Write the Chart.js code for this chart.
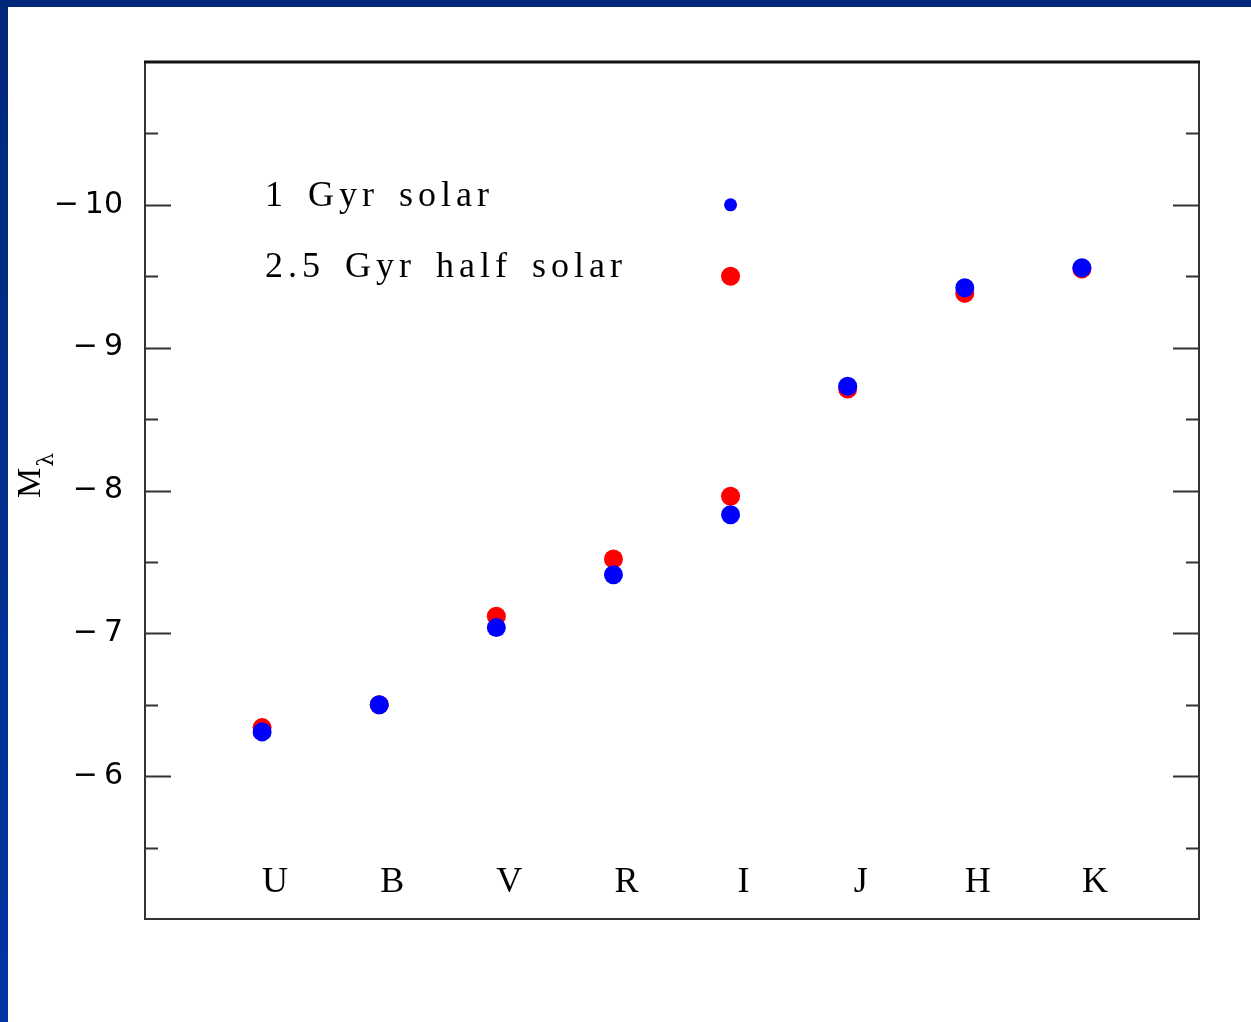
<!DOCTYPE html>
<html lang="en">
<head>
  <meta charset="UTF-8" />
  <title>Absolute magnitude by band</title>
  <script src="https://cdn.jsdelivr.net/npm/chart.js"></script>
  <style>
    html, body { margin: 0; padding: 0; background: #fff; }
    #wrap { width: 1251px; height: 1022px; position: relative; }
  </style>
</head>
<body>
<div id="wrap"><canvas id="magChart"></canvas></div>
<script>
  // bands along the bottom
  const bands = ['U', 'B', 'V', 'R', 'I', 'J', 'H', 'K'];
  const solar1Gyr = [-6.31, -6.50, -7.04, -7.41, -7.83, -8.73, -9.42, -9.56];      // blue
  const halfSolar25Gyr = [-6.34, -6.50, -7.12, -7.52, -7.96, -8.71, -9.38, -9.55]; // red
  const yTickLabels = [-10, -9, -8, -7, -6];
  const legendNames = ['1 Gyr solar', '2.5 Gyr half solar'];
  const legendMarkY = [-10, -9.5];
  const legendBand = 'I';

  const BLUE = '#0000ff';
  const RED = '#ff0000';

  const toPoints = vals => vals.map((v, i) => ({ x: i + 1, y: v }));
  const legendX = bands.indexOf(legendBand) + 1;

  // frame, inward ticks, band letters, legend text, axis title
  const decor = {
    id: 'decor',
    beforeDraw(chart) {
      const { ctx, width, height } = chart;
      ctx.save();
      ctx.fillStyle = '#fff';
      ctx.fillRect(0, 0, width, height);
      const g = ctx.createLinearGradient(0, 0, 0, height);
      g.addColorStop(0, '#00287a');
      g.addColorStop(1, '#0036a3');
      ctx.fillStyle = g;
      ctx.fillRect(0, 0, 8, height);
      ctx.fillStyle = '#00287a';
      ctx.fillRect(0, 0, width, 7);
      ctx.restore();
    },
    afterDraw(chart) {
      const { ctx, chartArea: a } = chart;
      const xs = chart.scales.x, ys = chart.scales.y;
      ctx.save();

      // frame
      ctx.strokeStyle = '#333';
      ctx.lineWidth = 2;
      ctx.strokeRect(a.left, a.top, a.right - a.left, a.bottom - a.top);
      ctx.strokeStyle = '#111';
      ctx.lineWidth = 3;
      ctx.beginPath();
      ctx.moveTo(a.left - 1, a.top);
      ctx.lineTo(a.right + 1, a.top);
      ctx.stroke();

      // ticks on left and right, pointing in
      ctx.strokeStyle = '#333';
      ctx.lineWidth = 2;
      for (let v = -10.5; v <= -5.5; v += 0.5) {
        const y = Math.round(ys.getPixelForValue(v)) + 0.5;
        const len = Number.isInteger(v) ? 26 : 13;
        ctx.beginPath();
        ctx.moveTo(a.left, y); ctx.lineTo(a.left + len, y);
        ctx.moveTo(a.right, y); ctx.lineTo(a.right - len, y);
        ctx.stroke();
      }

      // band letters inside the plot
      ctx.fillStyle = '#000';
      ctx.font = '36px "Liberation Serif"';
      ctx.textAlign = 'center';
      ctx.textBaseline = 'alphabetic';
      bands.forEach((b, i) => {
        ctx.fillText(b, xs.getPixelForValue(i + 1) + 13, a.bottom - 27);
      });

      // legend text
      ctx.font = '36px "Liberation Serif"';
      ctx.textAlign = 'left';
      ctx.letterSpacing = '5px';
      ctx.wordSpacing = '6px';
      legendNames.forEach((name, i) => {
        ctx.fillText(name, a.left + 120, ys.getPixelForValue(legendMarkY[i]) + 1);
      });
      ctx.letterSpacing = '0px';
      ctx.wordSpacing = '0px';

      // y title M_lambda
      ctx.translate(40, 498);
      ctx.rotate(-Math.PI / 2);
      ctx.font = '34px "Liberation Serif"';
      ctx.fillText('M', 0, 0);
      const mw = ctx.measureText('M').width;
      ctx.font = '22px "DejaVu Serif"';
      ctx.fillText('\u03bb', mw + 1, 13);
      ctx.restore();
    }
  };

  new Chart(document.getElementById('magChart'), {
    type: 'scatter',
    data: {
      datasets: [
        {
          label: legendNames[0],
          data: toPoints(solar1Gyr),
          backgroundColor: BLUE,
          borderWidth: 0,
          pointRadius: 9.5,
          pointHoverRadius: 9.5
        },
        {
          label: legendNames[1],
          data: toPoints(halfSolar25Gyr),
          backgroundColor: RED,
          borderWidth: 0,
          pointRadius: 9.5,
          pointHoverRadius: 9.5
        },
        {
          label: 'legend marks',
          data: legendMarkY.map(v => ({ x: legendX, y: v })),
          backgroundColor: [BLUE, RED],
          borderWidth: 0,
          pointRadius: [6.5, 9.5],
          pointHoverRadius: [6.5, 9.5]
        }
      ]
    },
    options: {
      responsive: true,
      maintainAspectRatio: false,
      animation: false,
      layout: { padding: { top: 62, right: 52, bottom: 103, left: 0 } },
      plugins: {
        legend: { display: false },
        tooltip: { enabled: false }
      },
      scales: {
        x: { type: 'linear', min: 0, max: 9, display: false },
        y: {
          min: -11,
          max: -5,
          reverse: true,
          grid: { display: false },
          border: { display: false },
          afterFit: s => { s.width = 145; },
          ticks: {
            stepSize: 1,
            padding: 14,
            color: '#000',
            font: { family: 'DejaVu Sans', size: 30 },
            callback: v => yTickLabels.includes(v) ? '\u2212\u2009' + Math.abs(v) : ''
          }
        }
      }
    },
    plugins: [decor]
  });
</script>
</body>
</html>
